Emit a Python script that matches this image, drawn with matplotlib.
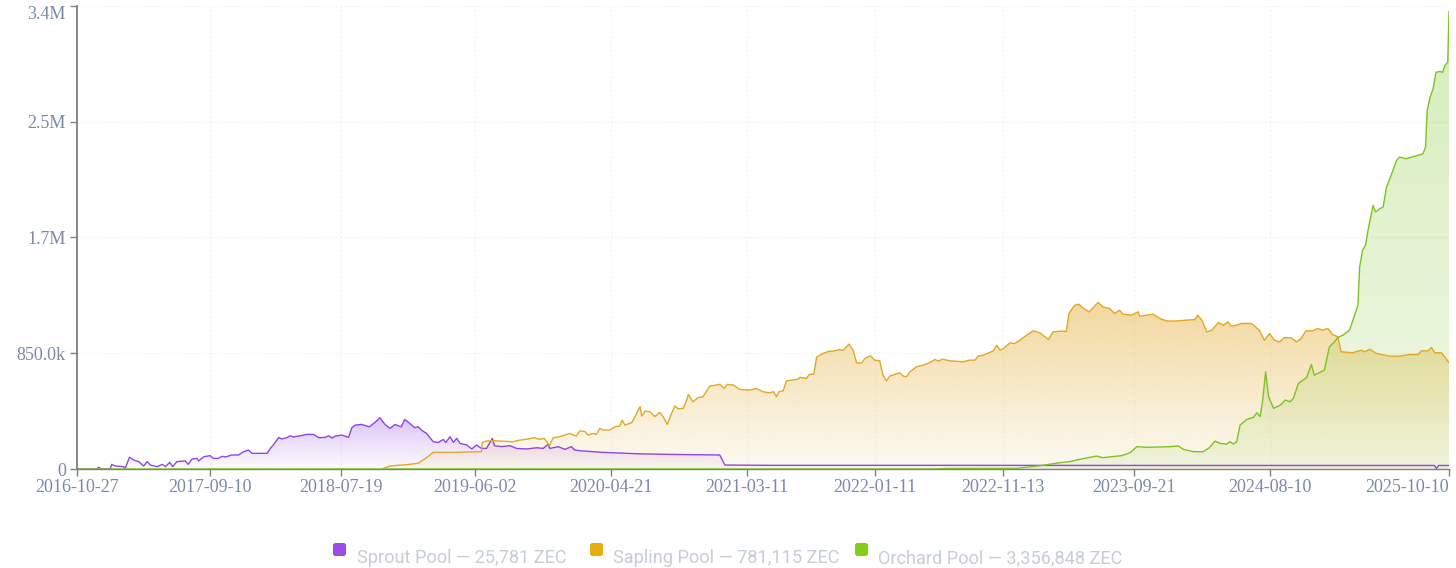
import numpy as np
import matplotlib
matplotlib.use("Agg")
import matplotlib.pyplot as plt
import matplotlib.dates as mdates
from matplotlib.colors import to_rgb
from matplotlib.patches import FancyBboxPatch
from matplotlib.transforms import IdentityTransform

# ---------------- data (values in thousands of ZEC) ----------------
sprout_dates = ["2016-10-27","2016-12-13","2016-12-17","2016-12-25","2017-01-14","2017-01-18","2017-01-26","2017-02-15","2017-02-19","2017-03-01","2017-03-11","2017-03-23","2017-04-04","2017-04-12","2017-04-20","2017-05-06","2017-05-18","2017-05-26","2017-06-05","2017-06-12","2017-06-22","2017-07-12","2017-07-19","2017-07-28","2017-08-09","2017-08-13","2017-08-25","2017-09-09","2017-09-17","2017-09-29","2017-10-08","2017-10-16","2017-10-31","2017-11-16","2017-11-28","2017-12-10","2017-12-18","2018-01-23","2018-01-31","2018-02-08","2018-02-20","2018-02-27","2018-03-11","2018-03-19","2018-03-27","2018-04-12","2018-04-28","2018-05-14","2018-05-26","2018-06-11","2018-06-19","2018-06-27","2018-07-05","2018-07-20","2018-08-05","2018-08-13","2018-08-21","2018-09-05","2018-09-24","2018-10-07","2018-10-19","2018-10-31","2018-11-12","2018-11-24","2018-12-01","2018-12-09","2018-12-17","2018-12-29","2019-01-10","2019-01-18","2019-01-26","2019-02-07","2019-02-23","2019-03-07","2019-03-19","2019-03-25","2019-04-04","2019-04-12","2019-04-20","2019-04-28","2019-05-14","2019-05-26","2019-06-06","2019-06-18","2019-06-30","2019-07-14","2019-07-19","2019-08-05","2019-08-25","2019-09-10","2019-10-04","2019-10-28","2019-11-12","2019-11-24","2019-11-28","2019-12-18","2020-01-03","2020-01-18","2020-01-26","2020-02-08","2020-04-03","2020-06-22","2020-09-09","2021-01-06","2021-01-18","2021-05-05","2022-06-01","2024-01-01","2025-09-05","2025-09-10","2025-09-15","2025-10-10"]
sprout_k = [0,0,12,0,0,34,22,17,5,86,66,54,22,54,29,17,34,17,49,17,54,59,34,73,78,59,90,98,78,78,93,88,103,103,127,139,115,115,151,181,232,220,230,244,235,244,254,254,230,232,244,227,242,249,232,303,322,327,310,342,376,327,298,327,318,310,364,335,303,310,286,261,200,195,217,195,237,195,225,188,176,147,176,151,151,225,171,164,171,151,147,156,151,181,151,164,144,164,139,134,122,112,107,103,29,27,27,26,26,4,26,25.781]

sapling_dates = ["2018-10-28","2018-11-12","2018-12-29","2019-01-18","2019-01-30","2019-02-10","2019-02-23","2019-04-12","2019-06-18","2019-06-20","2019-06-30","2019-07-16","2019-08-01","2019-09-01","2019-09-17","2019-10-07","2019-10-22","2019-11-03","2019-11-15","2019-11-27","2019-12-06","2019-12-22","2020-01-07","2020-01-14","2020-01-30","2020-02-08","2020-02-20","2020-02-27","2020-03-10","2020-03-18","2020-03-26","2020-04-03","2020-04-19","2020-05-01","2020-05-13","2020-05-18","2020-05-25","2020-06-10","2020-06-18","2020-06-30","2020-07-04","2020-07-12","2020-07-24","2020-08-04","2020-08-16","2020-08-24","2020-09-03","2020-09-13","2020-09-21","2020-09-29","2020-10-11","2020-10-19","2020-10-23","2020-11-03","2020-11-15","2020-11-27","2020-12-13","2021-01-06","2021-01-16","2021-01-24","2021-02-07","2021-02-23","2021-03-19","2021-04-03","2021-04-19","2021-05-05","2021-05-14","2021-05-21","2021-05-27","2021-06-06","2021-06-14","2021-06-26","2021-07-12","2021-07-16","2021-08-01","2021-08-07","2021-08-18","2021-08-25","2021-09-09","2021-09-24","2021-10-03","2021-10-19","2021-10-27","2021-11-10","2021-11-20","2021-11-28","2021-12-10","2021-12-18","2021-12-31","2022-01-10","2022-01-22","2022-01-30","2022-02-07","2022-02-15","2022-03-11","2022-03-19","2022-03-27","2022-04-04","2022-04-20","2022-05-06","2022-05-22","2022-06-03","2022-06-11","2022-06-21","2022-07-08","2022-08-09","2022-08-25","2022-09-06","2022-09-14","2022-09-26","2022-10-20","2022-10-28","2022-11-05","2022-11-13","2022-11-29","2022-12-10","2022-12-22","2023-01-07","2023-01-23","2023-02-08","2023-02-28","2023-03-11","2023-03-27","2023-04-12","2023-04-18","2023-05-02","2023-05-12","2023-05-18","2023-06-05","2023-06-15","2023-06-27","2023-07-08","2023-07-24","2023-08-05","2023-08-17","2023-08-25","2023-09-14","2023-09-30","2023-10-04","2023-10-20","2023-11-05","2023-11-21","2023-12-07","2023-12-23","2024-01-24","2024-02-13","2024-02-19","2024-02-29","2024-03-12","2024-03-24","2024-04-08","2024-04-20","2024-05-01","2024-05-09","2024-05-21","2024-06-02","2024-06-26","2024-07-15","2024-07-27","2024-08-08","2024-08-20","2024-09-01","2024-09-13","2024-09-29","2024-10-12","2024-10-22","2024-11-03","2024-11-19","2024-12-01","2024-12-13","2024-12-25","2025-01-06","2025-01-18","2025-01-26","2025-02-22","2025-03-15","2025-03-23","2025-04-04","2025-04-20","2025-05-22","2025-06-14","2025-07-08","2025-07-28","2025-08-05","2025-08-21","2025-08-29","2025-09-06","2025-09-22","2025-10-10"]
sapling_k = [5,22,34,42,66,90,122,122,127,195,205,208,205,200,212,220,230,217,225,171,230,237,254,261,242,281,274,249,261,254,298,286,286,310,315,359,322,340,384,457,388,425,420,384,415,384,327,408,462,442,445,506,547,493,523,530,608,621,591,621,616,584,579,591,567,559,567,530,567,574,647,652,660,672,665,694,696,823,848,865,865,877,872,916,872,779,779,811,831,799,794,689,647,682,706,682,677,713,750,762,782,804,792,806,794,787,799,799,828,836,867,909,872,884,926,921,945,982,1014,999,950,1006,1011,1011,1141,1202,1209,1190,1153,1185,1222,1190,1178,1141,1165,1136,1129,1153,1121,1129,1136,1104,1087,1085,1092,1097,1129,1092,1006,1019,1075,1055,1080,1048,1055,1068,1068,1019,945,994,945,933,965,963,933,958,1014,1014,1031,1019,1031,987,970,860,853,872,860,879,848,828,828,840,840,867,867,892,853,853,781.115]

orchard_dates = ["2016-10-27","2022-05-31","2022-07-01","2022-12-15","2023-02-08","2023-03-27","2023-04-20","2023-05-14","2023-06-23","2023-07-08","2023-08-22","2023-09-11","2023-09-27","2023-10-20","2023-12-15","2024-01-04","2024-01-16","2024-02-09","2024-03-03","2024-03-19","2024-03-31","2024-04-12","2024-04-28","2024-05-06","2024-05-14","2024-05-22","2024-05-30","2024-06-15","2024-07-01","2024-07-09","2024-07-17","2024-07-23","2024-07-30","2024-08-06","2024-08-18","2024-09-03","2024-09-15","2024-09-26","2024-10-04","2024-10-16","2024-11-05","2024-11-16","2024-11-23","2024-12-01","2024-12-17","2024-12-29","2025-01-10","2025-01-18","2025-01-30","2025-02-15","2025-02-23","2025-03-07","2025-03-11","2025-03-18","2025-03-25","2025-03-31","2025-04-12","2025-04-18","2025-04-28","2025-05-06","2025-05-14","2025-05-22","2025-06-07","2025-06-14","2025-06-30","2025-08-09","2025-08-15","2025-08-19","2025-08-26","2025-09-02","2025-09-09","2025-09-18","2025-09-25","2025-09-30","2025-10-07","2025-10-10"]
orchard_k = [0,0,4,5,24,46,54,71,95,83,98,120,164,159,164,169,144,127,127,159,205,188,183,200,183,200,322,364,379,413,384,506,713,530,445,469,506,493,518,628,672,767,689,701,726,897,933,965,982,1019,1092,1202,1483,1605,1642,1752,1935,1886,1910,1923,2069,2130,2265,2289,2277,2313,2362,2631,2729,2790,2912,2917,2912,2961,2985,3356.848]

series_names = ["Sprout Pool", "Sapling Pool", "Orchard Pool"]
legend_labels = ["Sprout Pool — 25,781 ZEC", "Sapling Pool — 781,115 ZEC", "Orchard Pool — 3,356,848 ZEC"]

x_tick_labels = ["2016-10-27","2017-09-10","2018-07-19","2019-06-02","2020-04-21","2021-03-11",
                 "2022-01-11","2022-11-13","2023-09-21","2024-08-10","2025-10-10"]
y_tick_values = [0, 850000, 1700000, 2550000, 3400000]
y_tick_labels = ["0", "850.0k", "1.7M", "2.5M", "3.4M"]

# ---------------- style ----------------
line_colors = ["#9046e6", "#e2a826", "#7cc420"]
legend_colors = ["#9b4de6", "#e8ae0e", "#84cc16"]
fill_alpha = [(0.32, 0.02), (0.45, 0.06), (0.32, 0.10)]
tick_color = "#7a89a6"
W, H = 1456, 568

fig = plt.figure(figsize=(W / 100, H / 100), dpi=100)
ax = fig.add_axes([77 / W, 99 / H, 1372 / W, 463.3 / H])

def to_num(ds):
    return mdates.date2num(np.array(ds, dtype="datetime64[D]"))

all_series = [(sprout_dates, sprout_k), (sapling_dates, sapling_k), (orchard_dates, orchard_k)]
xmin = to_num(["2016-10-27"])[0]
xmax = to_num(["2025-10-10"])[0]

for i, (ds, vk) in enumerate(all_series):
    x = to_num(ds)
    y = np.array(vk) * 1000.0
    poly = ax.fill_between(x, 0, y, facecolor="none", edgecolor="none")
    rgb = to_rgb(line_colors[i])
    grad = np.zeros((256, 1, 4))
    grad[:, :, :3] = rgb
    grad[:, 0, 3] = np.linspace(fill_alpha[i][1], fill_alpha[i][0], 256)
    im = ax.imshow(grad, aspect="auto", origin="lower",
                   extent=[x.min(), x.max(), 0, y.max()], zorder=1 + i,
                   interpolation="bilinear")
    im.set_clip_path(poly.get_paths()[0], transform=ax.transData)
    ax.plot(x, y, color=line_colors[i], lw=1.0, zorder=5 + i, solid_joinstyle="round")

ax.set_xlim(xmin, xmax)
ax.set_ylim(0, 3400000)
ax.xaxis_date()

ax.set_xticks(to_num(x_tick_labels))
ax.set_xticklabels(x_tick_labels)
ax.set_yticks(y_tick_values)
ax.set_yticklabels(y_tick_labels)

for s in ["top", "right"]:
    ax.spines[s].set_visible(False)
ax.spines["left"].set_color("#808080")
ax.spines["left"].set_linewidth(1.3)
ax.spines["bottom"].set_color("#808080")
ax.spines["bottom"].set_linewidth(1.0)

ax.tick_params(axis="both", colors="#808080", length=5, width=1.0, direction="out")
ax.tick_params(axis="x", pad=2)
ax.tick_params(axis="y", pad=3)
for lab in ax.get_xticklabels() + ax.get_yticklabels():
    lab.set_fontfamily(["Liberation Serif", "DejaVu Serif"])
    lab.set_fontsize(13)
    lab.set_color(tick_color)
ax.get_xticklabels()[-1].set_horizontalalignment("right")
ax.get_yticklabels()[-1].set_verticalalignment("top")

ax.grid(True, color="#f2f2f2", linestyle=(0, (2, 2)), linewidth=0.8, zorder=0)
ax.set_axisbelow(True)

# ---------------- legend (pixel positions) ----------------
sq_x = [333, 590, 855]
tx_x = [357, 613, 878]
for i in range(3):
    patch = FancyBboxPatch((sq_x[i], H - 556), 13, 13,
                           boxstyle="round,pad=0,rounding_size=2.5",
                           transform=IdentityTransform(), facecolor=legend_colors[i],
                           edgecolor="none")
    fig.add_artist(patch)
    fig.text(tx_x[i] / W, 1 - 558 / H, legend_labels[i], fontsize=13.1,
             family=["Roboto", "DejaVu Sans"], color="#c6cdd9", ha="left", va="center")

fig.savefig("out.png", dpi=100)
